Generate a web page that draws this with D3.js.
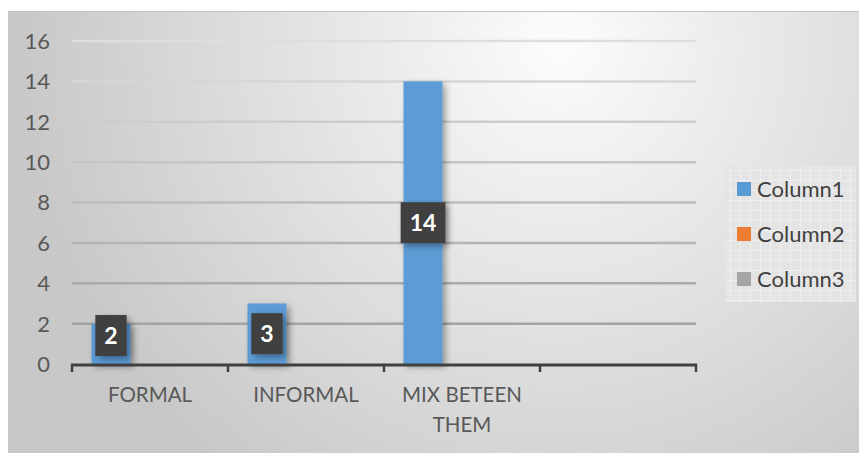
<!DOCTYPE html>
<html>
<head>
<meta charset="utf-8">
<script src="https://cdn.jsdelivr.net/npm/d3@7"></script>
<style>
  body { margin: 0; background: #fff; }
  svg { display: block; }
</style>
</head>
<body>
<div id="chart"></div>
<script>
// veriler
const categories = ['FORMAL', 'INFORMAL', 'MIX BETEEN THEM', ''];
const seriesNames = ['Column1', 'Column2', 'Column3'];
const column1 = [2, 3, 14, null];
const column2 = [null, null, null, null];
const column3 = [null, null, null, null];
const yTicks = [0, 2, 4, 6, 8, 10, 12, 14, 16];
const colors = ['#5b9bd5', '#ed7d31', '#a5a5a5'];

const width = 859;
const height = 453;
const margin = { top: 41, right: 163, bottom: 89, left: 72 };
const font = 'Lato, "Open Sans", sans-serif';

const svg = d3.select('#chart')
    .append('svg')
    .attr('width', width)
    .attr('height', height);

const defs = svg.append('defs');

// arka plan gradyanı
const bg = defs.append('radialGradient')
    .attr('id', 'bg')
    .attr('gradientUnits', 'userSpaceOnUse')
    .attr('cx', 560).attr('cy', 45).attr('r', 540);
bg.append('stop').attr('offset', '0%').attr('stop-color', '#fcfcfc');
bg.append('stop').attr('offset', '100%').attr('stop-color', '#c8c8c8');

// gölge
const shadow = defs.append('filter')
    .attr('id', 'shadow')
    .attr('x', '-30%').attr('y', '-30%')
    .attr('width', '160%').attr('height', '160%');
shadow.append('feDropShadow')
    .attr('dx', 3).attr('dy', 3)
    .attr('stdDeviation', 3)
    .attr('flood-color', '#000')
    .attr('flood-opacity', 0.35);

// lejant dokusu
const pat = defs.append('pattern')
    .attr('id', 'legendPat')
    .attr('patternUnits', 'userSpaceOnUse')
    .attr('width', 10).attr('height', 10);
pat.append('rect').attr('width', 10).attr('height', 10).attr('fill', '#e4e4e4');
pat.append('path').attr('d', 'M0,0.5H10M0.5,0V10')
    .attr('stroke', '#eeeeee').attr('stroke-width', 1);

svg.append('rect')
    .attr('x', 8).attr('y', 11)
    .attr('width', width - 8).attr('height', height - 11)
    .attr('fill', 'url(#bg)');
svg.append('line')
    .attr('x1', 8).attr('x2', width)
    .attr('y1', 11.5).attr('y2', 11.5)
    .attr('stroke', '#c4c4c4').attr('stroke-width', 1);

const x0 = d3.scaleBand()
    .domain(categories)
    .range([margin.left, width - margin.right]);

const x1 = d3.scaleBand()
    .domain(seriesNames)
    .range([0, x0.bandwidth()])
    .paddingOuter(0.5);

const y = d3.scaleLinear()
    .domain([0, 16])
    .range([height - margin.bottom, margin.top]);

// ızgara çizgileri (aşağı doğru koyulaşıyor)
const gridColor = d3.scaleLinear()
    .domain([16, 0])
    .range(['#dedede', '#9a9a9a']);

svg.append('g')
    .selectAll('line')
    .data(yTicks.filter(d => d > 0))
    .enter()
    .append('line')
    .attr('x1', margin.left)
    .attr('x2', width - margin.right)
    .attr('y1', d => y(d))
    .attr('y2', d => y(d))
    .attr('stroke', d => gridColor(d))
    .attr('stroke-width', 2.5);

// y ekseni etiketleri
svg.append('g')
    .selectAll('text')
    .data(yTicks)
    .enter()
    .append('text')
    .attr('x', 50)
    .attr('y', d => y(d))
    .attr('dy', '0.36em')
    .attr('text-anchor', 'end')
    .attr('font-family', font)
    .attr('font-size', 22)
    .attr('fill', '#595959')
    .text(d => d);

// çubuklar
const series = [column1, column2, column3];
const barData = [];
series.forEach((vals, si) => {
    vals.forEach((v, ci) => {
        if (v != null) barData.push({ cat: categories[ci], name: seriesNames[si], value: v, color: colors[si] });
    });
});

svg.append('g')
    .selectAll('rect')
    .data(barData)
    .enter()
    .append('rect')
    .attr('x', d => x0(d.cat) + x1(d.name))
    .attr('y', d => y(d.value))
    .attr('width', x1.bandwidth())
    .attr('height', d => y(0) - y(d.value))
    .attr('fill', d => d.color)
    .attr('filter', 'url(#shadow)');

// x ekseni
const axisY = y(0);
svg.append('line')
    .attr('x1', margin.left - 1)
    .attr('x2', width - margin.right + 1)
    .attr('y1', axisY + 1)
    .attr('y2', axisY + 1)
    .attr('stroke', '#404040')
    .attr('stroke-width', 3);

const tickXs = categories.map(c => x0(c)).concat([width - margin.right]);
svg.append('g')
    .selectAll('line')
    .data(tickXs)
    .enter()
    .append('line')
    .attr('x1', d => d)
    .attr('x2', d => d)
    .attr('y1', axisY)
    .attr('y2', axisY + 8)
    .attr('stroke', '#404040')
    .attr('stroke-width', 2.5);

// kategori etiketleri
const catLabels = svg.append('g')
    .selectAll('text')
    .data(categories)
    .enter()
    .append('text')
    .attr('x', d => x0(d) + x0.bandwidth() / 2)
    .attr('y', 402)
    .attr('text-anchor', 'middle')
    .attr('font-family', font)
    .attr('font-size', 20.5)
    .attr('fill', '#595959');

catLabels.each(function(d) {
    const t = d3.select(this);
    const words = d.split(' ');
    let line = [];
    let tspan = t.append('tspan').attr('x', t.attr('x')).attr('dy', 0);
    words.forEach(w => {
        line.push(w);
        tspan.text(line.join(' '));
        if (tspan.node().getComputedTextLength() > x0.bandwidth() - 20 && line.length > 1) {
            line.pop();
            tspan.text(line.join(' '));
            line = [w];
            tspan = t.append('tspan').attr('x', t.attr('x')).attr('dy', 30).text(w);
        }
    });
});

// veri etiketleri
const labelData = barData.filter(d => d.name === 'Column1');
const lbl = svg.append('g')
    .selectAll('g')
    .data(labelData)
    .enter()
    .append('g');

lbl.each(function(d) {
    const g = d3.select(this);
    const cx = x0(d.cat) + x1(d.name) + x1.bandwidth() / 2;
    const boxH = 41;
    let cy = (y(d.value) + y(0)) / 2;
    cy = Math.min(cy, y(0) - 8 - boxH / 2);
    const txt = g.append('text')
        .attr('x', cx)
        .attr('y', cy)
        .attr('dy', '0.36em')
        .attr('text-anchor', 'middle')
        .attr('font-family', font)
        .attr('font-weight', 'bold')
        .attr('font-size', 23)
        .attr('fill', '#ffffff')
        .text(d.value);
    const w = txt.node().getComputedTextLength() + 18;
    g.insert('rect', 'text')
        .attr('x', cx - w / 2)
        .attr('y', cy - boxH / 2)
        .attr('width', w)
        .attr('height', boxH)
        .attr('fill', '#404040')
        .attr('filter', 'url(#shadow)');
});

// lejant
const legend = svg.append('g');
legend.append('rect')
    .attr('x', 725).attr('y', 166)
    .attr('width', 131).attr('height', 136)
    .attr('fill', 'url(#legendPat)');

const legendItem = legend.selectAll('g')
    .data(seriesNames)
    .enter()
    .append('g')
    .attr('transform', (d, i) => `translate(737, ${182 + i * 45})`);

legendItem.append('rect')
    .attr('width', 14).attr('height', 14)
    .attr('fill', (d, i) => colors[i]);

legendItem.append('text')
    .attr('x', 20)
    .attr('y', 7)
    .attr('dy', '0.36em')
    .attr('font-family', font)
    .attr('font-size', 22)
    .attr('fill', '#404040')
    .text(d => d);
</script>
</body>
</html>
